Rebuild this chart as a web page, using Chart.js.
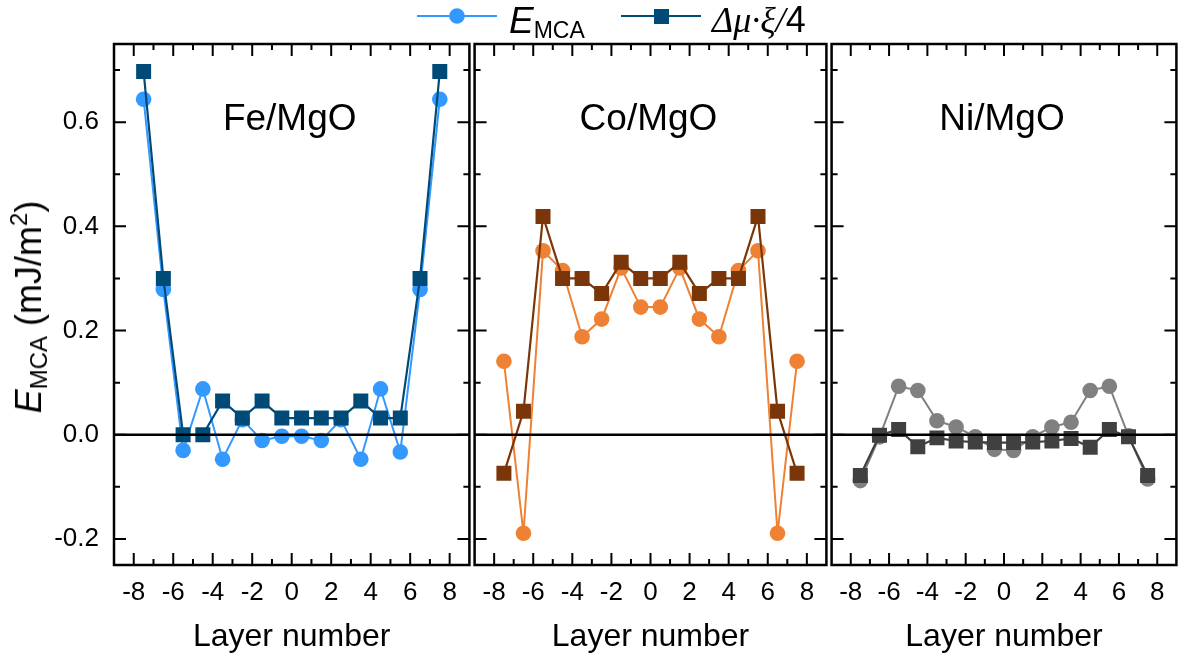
<!DOCTYPE html>
<html>
<head>
<meta charset="utf-8">
<script src="https://cdn.jsdelivr.net/npm/chart.js@4/dist/chart.umd.min.js"></script>
<style>
  body { margin: 0; background: #fff; }
  #wrap { position: relative; width: 1187px; height: 659px; font-family: "Liberation Sans", Arial, sans-serif; color: #000; }
  canvas { position: absolute; top: 0; }
  .txt { position: absolute; white-space: nowrap; line-height: 1; }
  #ytitle { position: absolute; left: 29px; top: 307px; font-size: 36px; line-height: 1; white-space: nowrap;
            transform: translate(-50%, -50%) rotate(-90deg); }
</style>
</head>
<body>
<div id="wrap">
  <canvas id="c1" width="480" height="659" style="left:0px"></canvas>
  <canvas id="c2" width="373" height="659" style="left:464px"></canvas>
  <canvas id="c3" width="366" height="659" style="left:821px"></canvas>

  <!-- legend -->
  <svg style="position:absolute;left:417px;top:6px" width="80" height="20">
    <line x1="0" y1="10" x2="80" y2="10" stroke="#3399ff" stroke-width="2"/>
    <circle cx="40" cy="10" r="7.8" fill="#3399ff"/>
  </svg>
  <div class="txt" style="left:509px;top:2px;font-size:37px"><i>E</i><span style="font-size:23px;vertical-align:-5px">MCA</span></div>
  <svg style="position:absolute;left:621px;top:6px" width="80" height="20">
    <line x1="0" y1="10" x2="80" y2="10" stroke="#004a78" stroke-width="2"/>
    <rect x="33" y="3" width="15" height="15" fill="#004a78"/>
  </svg>
  <div class="txt" style="left:712px;top:2px;font-size:36px"><i style="font-family:'Liberation Serif',serif">&Delta;&mu;&middot;&xi;/</i>4</div>

  <div id="ytitle"><i>E</i><span style="font-size:24px;vertical-align:-6px">MCA</span> (mJ/m<span style="font-size:24px;vertical-align:14px">2</span>)</div>
</div>

<script>
// layer positions (x) and axis ticks
const layers = [-7.5, -6.5, -5.5, -4.5, -3.5, -2.5, -1.5, -0.5, 0.5, 1.5, 2.5, 3.5, 4.5, 5.5, 6.5, 7.5];
const xTicks = [-8, -6, -4, -2, 0, 2, 4, 6, 8];
const xMinor = [-7, -5, -3, -1, 1, 3, 5, 7];
const yTicks = [-0.2, 0, 0.2, 0.4, 0.6];
const yMinor = [-0.1, 0.1, 0.3, 0.5, 0.7];
const panelNames = ['Fe/MgO', 'Co/MgO', 'Ni/MgO'];

// E_MCA (circles) and dmu*xi/4 (squares), mJ/m^2
const feMca = [0.644, 0.279, -0.030, 0.088, -0.047, 0.029, -0.011, -0.003, -0.003, -0.011, 0.029, -0.047, 0.088, -0.033, 0.279, 0.644];
const feDmu = [0.697, 0.300, 0.0, 0.0, 0.065, 0.032, 0.065, 0.032, 0.032, 0.032, 0.032, 0.065, 0.032, 0.032, 0.300, 0.697];
const coMca = [0.141, -0.189, 0.353, 0.315, 0.188, 0.222, 0.320, 0.245, 0.245, 0.320, 0.222, 0.188, 0.315, 0.353, -0.189, 0.141];
const coDmu = [-0.074, 0.045, 0.419, 0.300, 0.300, 0.271, 0.331, 0.300, 0.300, 0.331, 0.271, 0.300, 0.300, 0.419, 0.045, -0.074];
const niMca = [-0.088, -0.004, 0.093, 0.085, 0.027, 0.015, -0.004, -0.028, -0.030, -0.004, 0.015, 0.024, 0.085, 0.093, -0.002, -0.085];
const niDmu = [-0.078, -0.001, 0.010, -0.023, -0.006, -0.012, -0.014, -0.015, -0.015, -0.014, -0.012, -0.007, -0.024, 0.010, -0.004, -0.078];

const FONT = '"Liberation Sans", Arial, sans-serif';

// frame, inside ticks, zero line and panel name
const framePlugin = {
  id: 'frame',
  afterDatasetsDraw(chart) {
    const { ctx, chartArea: a, scales: { y } } = chart;
    const y0 = y.getPixelForValue(0);
    ctx.save();
    ctx.strokeStyle = '#000';
    ctx.lineWidth = 2.5;
    ctx.beginPath();
    ctx.moveTo(a.left, y0);
    ctx.lineTo(a.right, y0);
    ctx.stroke();
    ctx.restore();
  },
  afterDraw(chart, args, opts) {
    const { ctx, chartArea: a, scales: { x, y } } = chart;
    ctx.save();
    ctx.strokeStyle = '#000';
    ctx.lineWidth = 2;
    ctx.beginPath();
    const xt = (list, len) => list.forEach(v => {
      const px = x.getPixelForValue(v);
      ctx.moveTo(px, a.bottom); ctx.lineTo(px, a.bottom - len);
      ctx.moveTo(px, a.top); ctx.lineTo(px, a.top + len);
    });
    const yt = (list, len) => list.forEach(v => {
      const py = y.getPixelForValue(v);
      ctx.moveTo(a.left, py); ctx.lineTo(a.left + len, py);
      ctx.moveTo(a.right, py); ctx.lineTo(a.right - len, py);
    });
    xt(xTicks, 12); xt(xMinor, 6);
    yt(yTicks, 12); yt(yMinor, 6);
    ctx.stroke();
    ctx.lineWidth = 2.5;
    ctx.strokeRect(a.left, a.top, a.right - a.left, a.bottom - a.top);

    ctx.fillStyle = '#000';
    ctx.font = '37px ' + FONT;
    ctx.textAlign = 'center';
    ctx.textBaseline = 'alphabetic';
    ctx.fillText(opts.name, (a.left + a.right) / 2 - 2, y.getPixelForValue(0.6) + 8);
    ctx.restore();
  }
};

function makePanel(id, idx, mca, dmu, c1, c2, pad) {
  const toPts = arr => layers.map((x, i) => ({ x: x, y: arr[i] }));
  new Chart(document.getElementById(id), {
    type: 'line',
    data: {
      datasets: [{
        label: 'E_MCA',
        data: toPts(mca),
        borderColor: c1,
        backgroundColor: c1,
        borderWidth: 2,
        pointStyle: 'circle',
        pointRadius: 7.8,
        pointBorderWidth: 0,
        order: 1
      }, {
        label: 'dmu xi / 4',
        data: toPts(dmu),
        borderColor: c2,
        backgroundColor: c2,
        borderWidth: 2.2,
        pointStyle: 'rect',
        pointRadius: 10.6,
        pointBorderWidth: 0,
        order: 0
      }]
    },
    options: {
      responsive: false,
      animation: false,
      devicePixelRatio: 1,
      layout: { padding: { left: pad[0], right: pad[1], top: 44, bottom: 0 } },
      plugins: {
        legend: { display: false },
        tooltip: { enabled: false },
        frame: { name: panelNames[idx] }
      },
      scales: {
        x: {
          type: 'linear',
          min: -9,
          max: 9,
          afterBuildTicks: s => { s.ticks = xTicks.map(v => ({ value: v })); },
          afterFit: s => { s.height = 94; },
          grid: { display: false, drawTicks: false },
          border: { display: false },
          ticks: { autoSkip: false, maxRotation: 0, color: '#000', padding: 12,
                   font: { size: 26, family: FONT }, callback: v => String(v) },
          title: { display: true, text: 'Layer number', color: '#000',
                   font: { size: 32, family: FONT }, padding: { top: 0, bottom: 3 } }
        },
        y: {
          min: -0.25,
          max: 0.75,
          display: idx === 0,
          afterBuildTicks: s => { s.ticks = yTicks.map(v => ({ value: v })); },
          afterFit: s => { if (idx === 0) s.width = 114; },
          grid: { display: false, drawTicks: false },
          border: { display: false },
          ticks: { color: '#000', padding: 15, font: { size: 26, family: FONT },
                   callback: v => v.toFixed(1) }
        }
      }
    },
    plugins: [framePlugin]
  });
}

makePanel('c1', 0, feMca, feDmu, '#3399ff', '#004a78', [0, 8]);
makePanel('c2', 1, coMca, coDmu, '#ee8133', '#7a3608', [8, 8]);
makePanel('c3', 2, niMca, niDmu, '#808080', '#404040', [8, 2]);
</script>
</body>
</html>
